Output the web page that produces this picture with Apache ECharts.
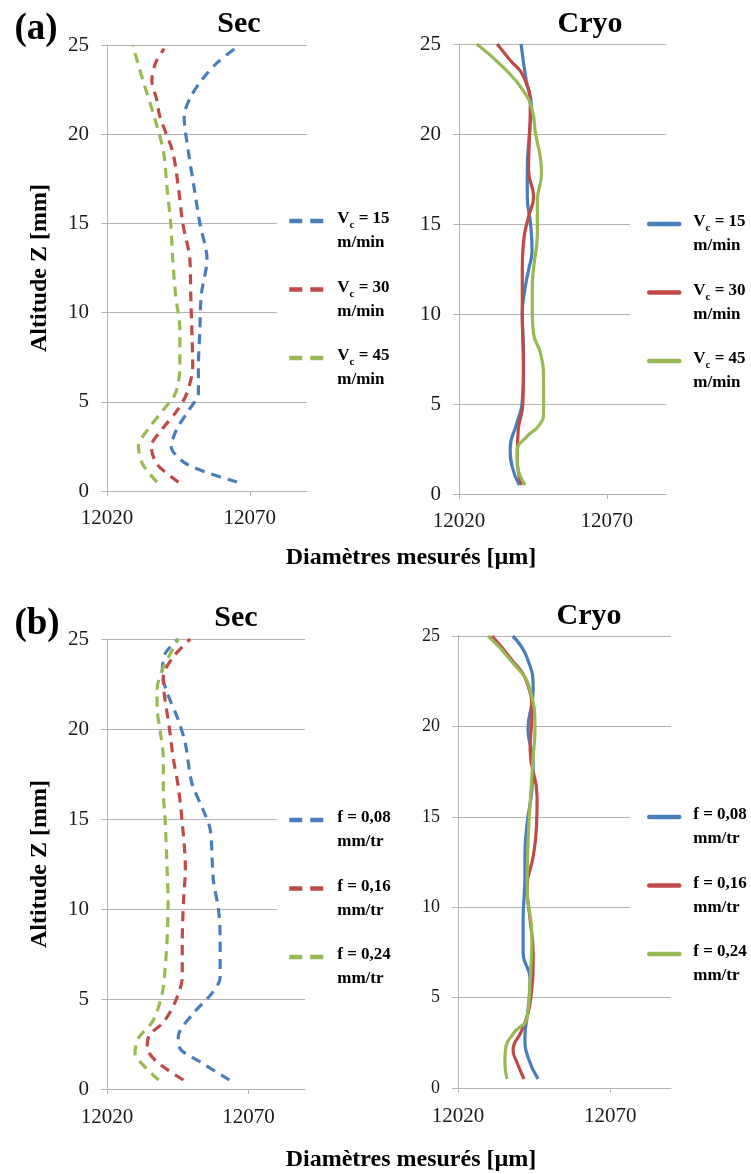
<!DOCTYPE html>
<html>
<head>
<meta charset="utf-8">
<script src="https://cdn.jsdelivr.net/npm/echarts@6/dist/echarts.min.js"></script>
<style>
html, body { margin: 0; padding: 0; background: #fff; }
#chart { width: 751px; height: 1174px; }
</style>
</head>
<body>
<div id="chart"></div>
<script>
// each curve: [diamètre mesuré (µm), altitude Z (mm)]
var secA_vc15 = [[12065.5,0.5],[12048,1.5],[12042.5,2.5],[12044.5,3.5],[12048.5,4.5],[12052,5.5],[12052,7],[12052.5,9],[12053,11],[12055,13],[12052.5,15],[12050.5,17],[12048.5,19],[12047,21],[12049,22],[12053,23],[12058.5,24],[12066.5,25]];
var secA_vc30 = [[12045,0.5],[12037.5,1.5],[12035.5,2.5],[12039.5,3.5],[12044.5,4.5],[12048,5.5],[12050,7],[12049.7,9],[12049.3,11],[12049,13],[12046.5,15],[12045,17],[12043,19],[12038.5,21],[12037.3,22],[12035.7,23],[12037,24],[12040,24.8]];
var secA_vc45 = [[12037.5,0.5],[12032.5,1.5],[12031,2.5],[12034.5,3.5],[12039.5,4.5],[12044,5.5],[12045.5,7],[12045.5,9],[12044,11],[12043,13],[12042.3,15],[12041,17],[12039.8,19],[12036.5,21],[12032.6,23],[12029,25]];

var cryoA_vc15 = [[12040.4,0.5],[12038,1.5],[12037.3,2.5],[12039.7,4],[12041.3,5],[12041.8,6.5],[12041.8,8],[12041.4,10],[12042.4,11.5],[12043.6,12.5],[12044.7,13.5],[12044.2,15],[12043.1,16.5],[12043.1,18],[12043.8,20],[12044.5,21.5],[12042.7,23],[12041,25]];
var cryoA_vc30 = [[12041.1,0.5],[12039.7,2],[12040,3.5],[12041.6,5],[12041.8,7],[12041.4,10],[12041.4,12.5],[12041.8,14],[12043.5,15.4],[12045.2,16.5],[12043.5,18],[12043.8,19.7],[12044.1,21.5],[12041.8,23.2],[12037.3,24.1],[12032.9,25]];
var cryoA_vc45 = [[12042.4,0.5],[12039.7,1.7],[12039.7,2.4],[12043,3.2],[12047,3.8],[12048.6,4.5],[12048.6,6.3],[12047.6,7.8],[12045.2,8.9],[12044.8,10],[12044.8,11.5],[12045.2,12.5],[12046.5,14.5],[12046.5,16.3],[12047.9,17.8],[12047.6,18.6],[12045.9,20],[12044.8,21.3],[12041.8,22.4],[12035,23.7],[12026,25]];

var secB_f08 = [[12063.3,0.5],[12053,1.5],[12046,2.2],[12045.2,2.9],[12050.5,4.2],[12057,5.3],[12060,6.2],[12060,8.4],[12059.4,10],[12057.6,11.6],[12056.5,14.4],[12054,15.5],[12050,17],[12047.7,19.2],[12045.2,20.5],[12041.3,22],[12039.5,23.1],[12040.6,24.2],[12045.2,25]];
var secB_f16 = [[12047,0.5],[12037.7,1.5],[12034.2,2.3],[12035,3],[12039.9,3.7],[12044,4.8],[12046.6,6.2],[12046.6,8.1],[12047,10.3],[12047.7,12.3],[12046.6,14.8],[12045.2,16.8],[12043.4,18.4],[12042,20.1],[12040.2,22],[12039.9,22.9],[12043.4,24],[12049.4,25]];
var secB_f24 = [[12038.3,0.5],[12034.2,1.1],[12029.9,2],[12031,2.8],[12036.3,3.8],[12039.5,5.3],[12040.6,6.8],[12041.3,8.5],[12041.6,10.3],[12041.3,12],[12040.6,14.8],[12039.9,16.6],[12039.9,18.4],[12038.8,19.9],[12037.7,21.2],[12037.7,22.2],[12039.9,23.4],[12045.2,25]];

var cryoB_f08 = [[12046.3,0.5],[12043,1.7],[12042,2.8],[12043,4.3],[12043.7,6],[12041.4,7.5],[12041.4,9.3],[12042,11.7],[12042,12.8],[12042.7,14.6],[12044.3,16.5],[12044.7,18],[12043,19.8],[12044.7,22],[12042.7,23.8],[12038,25]];
var cryoB_f16 = [[12041.7,0.5],[12039.4,1.4],[12038.1,2.1],[12041,3.2],[12043.7,4.7],[12044.7,7.5],[12043.7,9.3],[12042.7,11.1],[12044.7,12.8],[12045.8,14.5],[12046,16.1],[12043.7,18.7],[12044.3,20.7],[12042.7,22.4],[12037.1,23.8],[12031.2,25]];
var cryoB_f24 = [[12036.1,0.5],[12035.4,1.4],[12035.6,2.1],[12038.1,3],[12042.7,3.9],[12043.7,6],[12044.3,8.4],[12042.7,11.1],[12043,13.6],[12044,16.5],[12044.7,18.3],[12045.3,19.8],[12043.7,22],[12037.1,23.7],[12029.9,25]];

var xTicks = [12020, 12070];
var vcNames = ['Vc = 15 m/min', 'Vc = 30 m/min', 'Vc = 45 m/min'];
var vcLabels = ['{b|V}{s|c}{b| = 15}\n{b|m/min}', '{b|V}{s|c}{b| = 30}\n{b|m/min}', '{b|V}{s|c}{b| = 45}\n{b|m/min}'];
var fNames = ['f = 0,08 mm/tr', 'f = 0,16 mm/tr', 'f = 0,24 mm/tr'];
var fLabels = ['{b|f = 0,08}\n{b|mm/tr}', '{b|f = 0,16}\n{b|mm/tr}', '{b|f = 0,24}\n{b|mm/tr}'];
var colors = ['#4a7ebb', '#be4b48', '#98b954'];

var serif = '"Liberation Serif", "DejaVu Serif", serif';
var gridColor = '#b4b4b4';

var labelMap = {};
vcNames.forEach(function (n, i) { labelMap['Sec ' + n] = vcLabels[i]; labelMap['Cryo ' + n] = vcLabels[i]; });
fNames.forEach(function (n, i) { labelMap['Sec ' + n] = fLabels[i]; labelMap['Cryo ' + n] = fLabels[i]; });

var grids = [
    {left: 107, top: 45, width: 200, height: 446},
    {left: 459, top: 44, width: 207, height: 450},
    {left: 107, top: 639, width: 198, height: 450},
    {left: 458, top: 636, width: 213, height: 452}
];

function makeX(idx, margin) {
    return {
        type: 'value', gridIndex: idx, min: 12020, max: 12090,
        axisLine: {lineStyle: {color: gridColor}},
        axisTick: {show: true, length: 5, customValues: xTicks, lineStyle: {color: gridColor}},
        axisLabel: {customValues: xTicks, margin: margin, fontFamily: serif, fontSize: 21, color: '#1a1a1a',
            formatter: function (v) { return String(v); }},
        splitLine: {show: false}
    };
}

function makeY(idx, name, size) {
    return {
        type: 'value', gridIndex: idx, min: 0, max: 25, interval: 5,
        name: name, nameLocation: 'middle', nameGap: 55,
        nameTextStyle: {fontFamily: serif, fontWeight: 'bold', fontSize: 24, color: '#000'},
        axisLine: {show: true, lineStyle: {color: gridColor}},
        axisTick: {show: true, length: 6, lineStyle: {color: gridColor}},
        axisLabel: {margin: 18, fontFamily: serif, fontSize: size, color: '#1a1a1a'},
        splitLine: {show: true, lineStyle: {color: gridColor, width: 1}}
    };
}

function makeSeries(prefix, names, datas, idx, dashed) {
    return names.map(function (n, i) {
        return {
            name: prefix + n, type: 'line', xAxisIndex: idx, yAxisIndex: idx,
            data: datas[i], showSymbol: false, symbol: 'none',
            smooth: dashed ? 0.3 : 0.5,
            lineStyle: {color: colors[i], width: 3.2, type: dashed ? [10, 7] : 'solid'},
            itemStyle: {color: colors[i]}
        };
    });
}

function makeLegend(prefix, names, left, top, iconW, padLeft, dashed) {
    return {
        orient: 'vertical', left: left, top: top,
        data: names.map(function (n) { return prefix + n; }),
        itemWidth: iconW, itemHeight: 14, itemGap: 12,
        backgroundColor: '#fff', padding: [6, 6, 6, padLeft],
        selectedMode: false,
        itemStyle: {opacity: 0},
        lineStyle: {width: 4.5, type: dashed ? [13, 8] : 'solid', cap: dashed ? 'butt' : 'round'},
        formatter: function (name) { return '{e| }\n{p|}' + labelMap[name].replace('\n', '\n{p|}'); },
        textStyle: {
            rich: {
                e: {fontSize: 4, lineHeight: 20},
                p: {width: 9},
                b: {fontFamily: serif, fontWeight: 'bold', fontSize: 17, lineHeight: 24, color: '#000'},
                s: {fontFamily: serif, fontWeight: 'bold', fontSize: 11, lineHeight: 24, color: '#000', verticalAlign: 'bottom'}
            }
        }
    };
}

var titleText = function (text, x, y, size) {
    return {text: text, left: x, top: y, textAlign: 'center', padding: 0,
        textStyle: {fontFamily: serif, fontWeight: 'bold', fontSize: size, color: '#000'}};
};

var myChart = echarts.init(document.getElementById('chart'));
var option = {
    animation: false,
    backgroundColor: '#fff',
    title: [
        titleText('(a)', 36, 11, 37),
        titleText('(b)', 37, 606, 37),
        titleText('Sec', 239, 9, 30),
        titleText('Cryo', 590, 9, 30),
        titleText('Sec', 236, 603, 30),
        titleText('Cryo', 589, 601, 30),
        titleText('Diamètres mesurés [µm]', 411, 546, 24),
        titleText('Diamètres mesurés [µm]', 411, 1148, 24)
    ],
    grid: grids,
    xAxis: [makeX(0, 17), makeX(1, 17), makeX(2, 18), makeX(3, 18)],
    yAxis: [makeY(0, 'Altitude Z [mm]', 21), makeY(1, '', 21), makeY(2, 'Altitude Z [mm]', 21), makeY(3, '', 18)],
    legend: [
        makeLegend('Sec ', vcNames, 277, 189, 34, 10, true),
        makeLegend('Cryo ', vcNames, 630, 192, 30, 17, false),
        makeLegend('Sec ', fNames, 277, 788, 34, 10, true),
        makeLegend('Cryo ', fNames, 630, 785, 30, 17, false)
    ],
    series: [].concat(
        makeSeries('Sec ', vcNames, [secA_vc15, secA_vc30, secA_vc45], 0, true),
        makeSeries('Cryo ', vcNames, [cryoA_vc15, cryoA_vc30, cryoA_vc45], 1, false),
        makeSeries('Sec ', fNames, [secB_f08, secB_f16, secB_f24], 2, true),
        makeSeries('Cryo ', fNames, [cryoB_f08, cryoB_f16, cryoB_f24], 3, false)
    )
};
myChart.setOption(option);
</script>
</body>
</html>
